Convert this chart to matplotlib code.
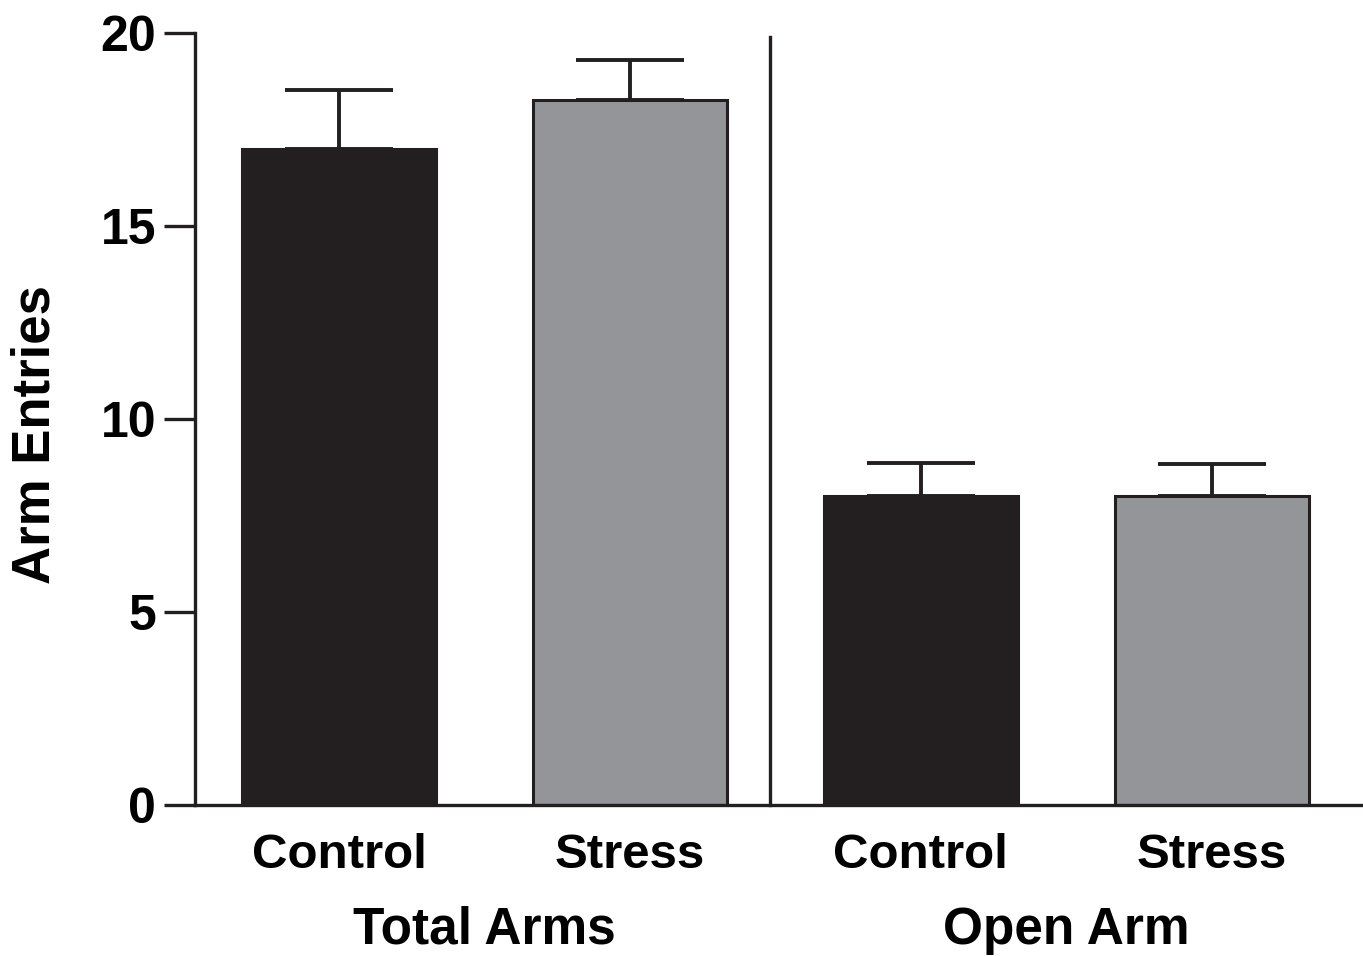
import matplotlib
matplotlib.use("Agg")
import matplotlib.pyplot as plt

categories = ["Control", "Stress", "Control", "Stress"]
groups = ["Total Arms", "Open Arm"]
means = [17.0, 18.27, 8.0, 8.0]
sems = [1.53, 1.03, 0.86, 0.83]
colors = ["#231f20", "#939598", "#231f20", "#939598"]
yticks = [0, 5, 10, 15, 20]

plt.rcParams["font.family"] = ["Liberation Sans", "DejaVu Sans"]
plt.rcParams["font.weight"] = "bold"

fig = plt.figure(figsize=(13.63, 9.56), dpi=100)
ax = fig.add_axes([195/1363, 1-805/956, 1-195/1363, (805-33)/956])

x = list(range(len(categories)))
ax.bar(x, means, width=0.667, color=colors, edgecolor="#231f20", linewidth=2.2, zorder=2)
ax.errorbar(x, means, yerr=[[0]*len(sems), sems], fmt="none", ecolor="#231f20",
            elinewidth=2.8, capsize=39, capthick=2.8, zorder=1)

ax.set_xlim(-0.495, 3.52)
ax.set_ylim(0, 20)
ax.set_yticks(yticks)
ax.set_yticklabels([str(t) for t in yticks], fontsize=36, fontweight="bold")
ax.tick_params(axis="y", length=22, width=2.4, pad=6, color="#231f20")
ax.set_xticks(x)
ax.set_xticklabels(categories, fontsize=35.5, fontweight="bold")
ax.tick_params(axis="x", length=0, pad=20)

for s in ["top", "right"]:
    ax.spines[s].set_visible(False)
for s in ["left", "bottom"]:
    ax.spines[s].set_linewidth(2.4)
    ax.spines[s].set_color("#231f20")

ax.plot([1.48, 1.48], [0, 19.9], color="#231f20", lw=2.4, clip_on=False, zorder=3)

for i, g in enumerate(groups):
    ax.text(2*i + 0.5, -3.25, g, ha="center", va="center", fontsize=37, fontweight="bold")

fig.text(36/1363, 1-435/956, "Arm Entries", rotation=90, ha="center", va="center",
         fontsize=38, fontweight="bold")

fig.savefig("out.png", dpi=100)
